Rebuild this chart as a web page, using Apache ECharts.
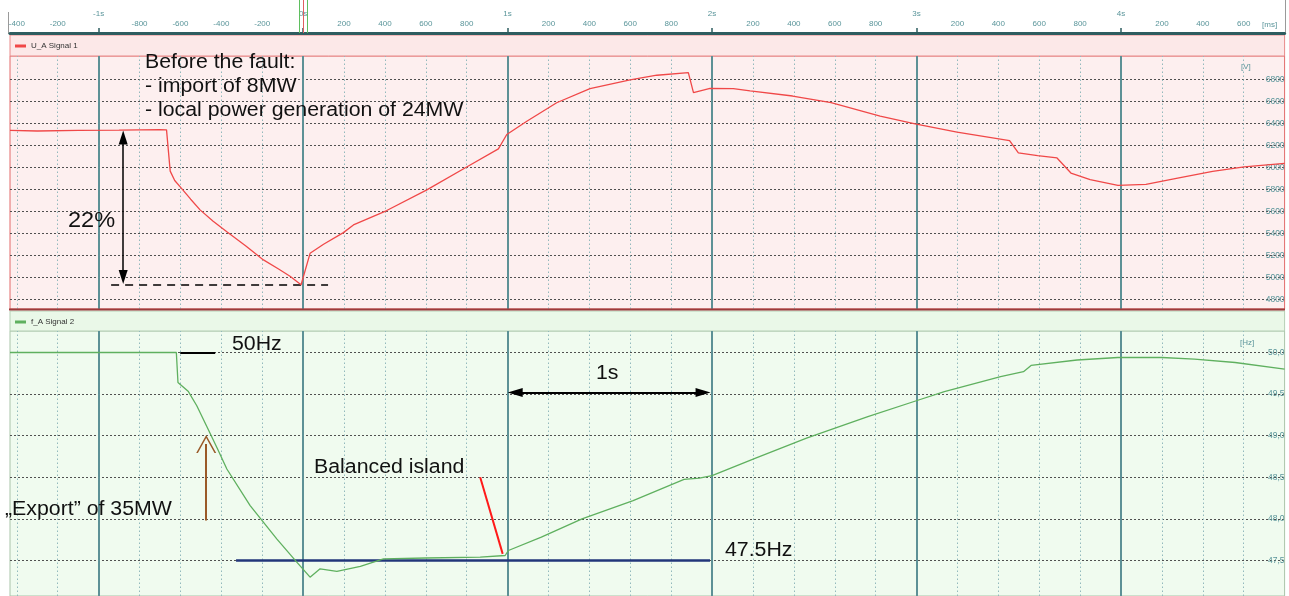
<!DOCTYPE html>
<html><head><meta charset="utf-8">
<script src="https://cdn.jsdelivr.net/npm/echarts@6/dist/echarts.min.js"></script>
<style>html,body{margin:0;padding:0;background:#fff}#c{width:1289px;height:596px}</style>
</head><body><div id="c"></div>
<script>
// ---- data (time in seconds relative to fault) ----
const timeV = [-1.4335,-1.30,-1.10,-0.90,-0.70,-0.668,-0.650,-0.628,-0.601,-0.55,-0.504,-0.44,-0.373,-0.28,-0.194,-0.12,-0.064,-0.010,0.034,0.10,0.197,0.246,0.409,0.605,0.80,0.955,0.996,1.094,1.24,1.403,1.599,1.73,1.884,1.909,1.99,2.104,2.186,2.394,2.582,2.822,2.993,3.198,3.455,3.498,3.592,3.687,3.755,3.849,3.985,4.122,4.277,4.448,4.602,4.80];
const voltage = [6335,6330,6335,6338,6342,6340,5965,5880,5822,5710,5613,5510,5415,5285,5158,5075,5010,4932,5218,5300,5406,5476,5607,5795,6003,6167,6298,6419,6587,6715,6794,6837,6861,6679,6718,6715,6695,6648,6587,6465,6395,6319,6243,6131,6106,6085,5948,5887,5835,5844,5902,5963,6003,6035];
const timeF = [-1.4335,-0.62,-0.612,-0.561,-0.52,-0.471,-0.42,-0.373,-0.259,-0.129,-0.031,0.034,0.083,0.165,0.28,0.393,0.60,0.866,0.988,1.004,1.165,1.364,1.614,1.863,1.938,2.0,2.213,2.462,2.762,2.999,3.136,3.411,3.523,3.56,3.785,3.985,4.2,4.359,4.558,4.80];
const freq = [50.0,50.0,49.64,49.53,49.36,49.11,48.85,48.60,48.16,47.76,47.48,47.30,47.40,47.37,47.43,47.52,47.53,47.54,47.56,47.62,47.78,48.00,48.22,48.476,48.49,48.52,48.73,48.97,49.23,49.42,49.53,49.71,49.77,49.845,49.91,49.94,49.94,49.92,49.88,49.80];
const majorSeconds = [-1,0,1,2,3,4];
const minorTimes = [-1.4,-1.2,-0.8,-0.6,-0.4,-0.2,0.2,0.4,0.6,0.8,1.2,1.4,1.6,1.8,2.2,2.4,2.6,2.8,3.2,3.4,3.6,3.8,4.2,4.4,4.6];
const rulerTicks = [-1.4,-1.2,-1,-0.8,-0.6,-0.4,-0.2,0,0.2,0.4,0.6,0.8,1,1.2,1.4,1.6,1.8,2,2.2,2.4,2.6,2.8,3,3.2,3.4,3.6,3.8,4,4.2,4.4,4.6];

const T_MIN = -1.4335, T_MAX = 4.8;
const L = 10, R = 4.4;
const FONT = 'Liberation Sans';
const TEAL = '#5a959a';

const chart = echarts.init(document.getElementById('c'), null, {renderer:'canvas'});

function hiddenX(i){ return {type:'value', gridIndex:i, min:T_MIN, max:T_MAX, show:false}; }
function hiddenY(i){ return {type:'value', gridIndex:i, min:0, max:1, show:false}; }

const gridLinesML = {
  symbol:'none', silent:true, animation:false, label:{show:false}, emphasis:{disabled:true},
  data: minorTimes.map(t=>({xAxis:t, lineStyle:{color:'#92b9bc', width:1, type:[1.5,2.5]}}))
    .concat(majorSeconds.map(t=>({xAxis:t, lineStyle:{color:'#5d9196', width:2, type:'solid'}})))
};
function seg(a,b,style,s1,s2,sz1,sz2){
  return [{coord:a, symbol:s1||'none', symbolSize:sz1||[9,14], lineStyle:style},
          {coord:b, symbol:s2||'none', symbolSize:sz2||[9,14]}];
}
const chevron = 'path://M0,0 L10,18 L8.3,18 L0,3 L-8.3,18 L-10,18 Z';

const option = {
  backgroundColor:'#ffffff',
  animation:false,
  grid:[
    {left:L, right:R, top:0, height:33, outerBoundsMode:'none', containLabel:false},
    {left:L, right:R, top:56, height:253, show:true, backgroundColor:'#fdefef', borderColor:'#e26a6a', borderWidth:1, outerBoundsMode:'none', containLabel:false},
    {left:L, right:R, top:79.3, height:220, outerBoundsMode:'none', containLabel:false},
    {left:L, right:R, top:331, height:265, show:true, backgroundColor:'#f0fbef', borderColor:'#a9c4a9', borderWidth:1, outerBoundsMode:'none', containLabel:false},
    {left:L, right:R, top:352.5, height:208, outerBoundsMode:'none', containLabel:false}
  ],
  legend:[
    {data:['U_A Signal 1'], left:10, top:37, icon:'rect', itemWidth:11, itemHeight:3, itemGap:4,
     textStyle:{fontSize:8, color:'#333', fontFamily:FONT}, selectedMode:false},
    {data:['f_A Signal 2'], left:10, top:313, icon:'rect', itemWidth:11, itemHeight:3, itemGap:4,
     textStyle:{fontSize:8, color:'#333', fontFamily:FONT}, selectedMode:false}
  ],
  xAxis:[
    {type:'value', gridIndex:0, min:T_MIN, max:T_MAX, position:'bottom',
     axisLine:{show:true, lineStyle:{color:'#2e5d60', width:3}},
     axisTick:{show:true, inside:true, length:5, customValues:majorSeconds, lineStyle:{color:'#2e5d60', width:1.5}},
     splitLine:{show:false},
     axisLabel:{show:true, inside:true, margin:4, customValues:rulerTicks, fontSize:8, color:TEAL, fontFamily:FONT,
       lineHeight:10,
       formatter:function(v){
         const r = Math.round(v*1000);
         if (r % 1000 === 0) return (r/1000)+'s\n';
         return String(r % 1000);
       }}},
    hiddenX(1), hiddenX(2), hiddenX(3), hiddenX(4)
  ],
  yAxis:[
    hiddenY(0), hiddenY(1),
    {type:'value', gridIndex:2, min:4800, max:6800, interval:200, position:'right',
     axisLine:{show:false}, axisTick:{show:false},
     splitLine:{show:true, lineStyle:{color:'#505050', width:1, type:[2,2]}},
     axisLabel:{inside:true, margin:0, fontSize:8.5, color:TEAL, fontFamily:FONT, formatter:v=>String(v)}},
    hiddenY(3),
    {type:'value', gridIndex:4, min:47.5, max:50.0, interval:0.5, position:'right',
     axisLine:{show:false}, axisTick:{show:false},
     splitLine:{show:true, lineStyle:{color:'#505050', width:1, type:[2,2]}},
     axisLabel:{inside:true, margin:0, fontSize:8.5, color:TEAL, fontFamily:FONT,
       formatter:v=>v.toFixed(1).replace('.',',')}}
  ],
  series:[
    {type:'line', xAxisIndex:0, yAxisIndex:0, data:[[T_MIN,0]], symbol:'none', lineStyle:{width:0}, silent:true,
     markLine:{symbol:'none', silent:true, animation:false, label:{show:false}, emphasis:{disabled:true},
       data:[{xAxis:-0.016, lineStyle:{color:'#5fbf5f', width:1, type:'solid'}},
             {xAxis:0.002, lineStyle:{color:'#e06060', width:1, type:'solid'}},
             {xAxis:0.018, lineStyle:{color:'#5fbf5f', width:1, type:'solid'}}]}},
    {type:'line', xAxisIndex:1, yAxisIndex:1, data:[[T_MIN,0]], symbol:'none', lineStyle:{width:0}, silent:true, z:1,
     markLine:gridLinesML},
    {name:'U_A Signal 1', type:'line', xAxisIndex:2, yAxisIndex:2, color:'#f04848', clip:false,
     data:timeV.map((t,i)=>[t,voltage[i]]), symbol:'none', lineStyle:{width:1.3, color:'#f04848'}, z:5,
     markLine:{symbol:'none', silent:true, animation:false, label:{show:false}, emphasis:{disabled:true},
       data:[
         seg([-0.88,6270],[-0.88,5002],{color:'#000',width:1.5,type:'solid'},'triangle','triangle',[9,14],[9,14]),
         seg([-0.939,4930],[0.122,4930],{color:'#000',width:1.5,type:[8,6]})
       ]}},
    {type:'line', xAxisIndex:3, yAxisIndex:3, data:[[T_MIN,0]], symbol:'none', lineStyle:{width:0}, silent:true, z:1,
     markLine:gridLinesML},
    {name:'f_A Signal 2', type:'line', xAxisIndex:4, yAxisIndex:4, color:'#5fb05f', clip:false,
     data:timeF.map((t,i)=>[t,freq[i]]), symbol:'none', lineStyle:{width:1.3, color:'#5fb05f'}, z:5,
     markLine:{symbol:'none', silent:true, animation:false, label:{show:false}, emphasis:{disabled:true},
       data:[
         seg([-0.601,50.0],[-0.43,50.0],{color:'#000',width:2,type:'solid'}),
         seg([-0.474,47.98],[-0.474,48.90],{color:'#9a5a28',width:2,type:'solid'},'none',chevron,[9,14],[20,18]),
         seg([0.866,48.50],[0.976,47.58],{color:'#ff1a1a',width:2,type:'solid'}),
         seg([1.037,49.52],[1.956,49.52],{color:'#000',width:2,type:'solid'},'triangle','triangle',[9,15],[9,15]),
         seg([-0.328,47.5],[1.99,47.5],{color:'#22367a',width:2.5,type:'solid'})
       ]}}
  ],
  graphic:[
    {type:'rect', shape:{x:10, y:35, width:1274.6, height:21}, style:{fill:'#fce8e8', stroke:'#e88a8a', lineWidth:1}, z:0},
    {type:'rect', shape:{x:10, y:311, width:1274.6, height:20}, style:{fill:'#eaf8e8', stroke:'#b5cfb5', lineWidth:1}, z:0},
    {type:'line', shape:{x1:9, y1:309.5, x2:1285, y2:309.5}, style:{stroke:'#9b3b3b', lineWidth:2}, z:10},
    {type:'line', shape:{x1:8.5, y1:12, x2:8.5, y2:34}, style:{stroke:'#9a9a9a', lineWidth:1}},
    {type:'line', shape:{x1:1285.5, y1:0, x2:1285.5, y2:34}, style:{stroke:'#9a9a9a', lineWidth:1}},
    {type:'text', x:1262, y:25, style:{text:'[ms]', fontSize:8, fill:TEAL, fontFamily:FONT, verticalAlign:'middle'}},
    {type:'text', x:1241, y:67, style:{text:'[V]', fontSize:8, fill:TEAL, fontFamily:FONT, verticalAlign:'middle'}},
    {type:'text', x:1240, y:343, style:{text:'[Hz]', fontSize:8, fill:TEAL, fontFamily:FONT, verticalAlign:'middle'}},
    {type:'text', x:145, y:62, scaleX:1.065, style:{text:'Before the fault:', fontSize:20, fill:'#111', fontFamily:FONT, verticalAlign:'middle'}, z:20},
    {type:'text', x:145, y:86, scaleX:1.065, style:{text:'- import of 8MW', fontSize:20, fill:'#111', fontFamily:FONT, verticalAlign:'middle'}, z:20},
    {type:'text', x:145, y:110, scaleX:1.065, style:{text:'- local power generation of 24MW', fontSize:20, fill:'#111', fontFamily:FONT, verticalAlign:'middle'}, z:20},
    {type:'text', x:68, y:221, scaleX:1.07, style:{text:'22%', fontSize:22, fill:'#111', fontFamily:FONT, verticalAlign:'middle'}, z:20},
    {type:'text', x:232, y:344, scaleX:1.065, style:{text:'50Hz', fontSize:20, fill:'#111', fontFamily:FONT, verticalAlign:'middle'}, z:20},
    {type:'text', x:596, y:373, scaleX:1.065, style:{text:'1s', fontSize:20, fill:'#111', fontFamily:FONT, verticalAlign:'middle'}, z:20},
    {type:'text', x:314, y:467, scaleX:1.065, style:{text:'Balanced island', fontSize:20, fill:'#111', fontFamily:FONT, verticalAlign:'middle'}, z:20},
    {type:'text', x:5, y:509, scaleX:1.065, style:{text:'\u201EExport\u201D of 35MW', fontSize:20, fill:'#111', fontFamily:FONT, verticalAlign:'middle'}, z:20},
    {type:'text', x:725, y:550, scaleX:1.065, style:{text:'47.5Hz', fontSize:20, fill:'#111', fontFamily:FONT, verticalAlign:'middle'}, z:20}
  ]
};
chart.setOption(option);
</script></body></html>
